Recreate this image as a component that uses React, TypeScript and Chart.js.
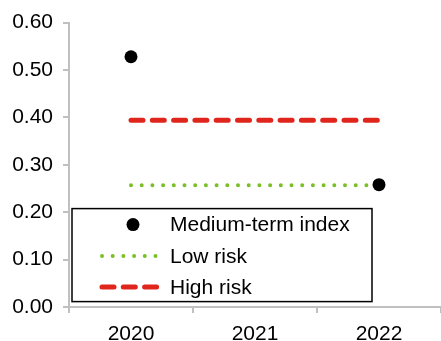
import React, { useEffect, useRef } from "react";
import { Chart, registerables } from "chart.js";

Chart.register(...registerables);

const categories = ["2020", "2021", "2022"];
const mediumTermIndex: (number | null)[] = [0.528, null, 0.258];
const lowRisk = [0.257, 0.257, 0.257];
const highRisk = [0.394, 0.394, 0.394];
const seriesLabels = ["Medium-term index", "Low risk", "High risk"];
const yMin = 0;
const yMax = 0.6;
const yStep = 0.1;

const FONT = "'Liberation Sans', Arial, sans-serif";
const AXIS_GRAY = "#c0c0c0";
const GREEN = "#78c025";
const RED = "#e0261c";

const boxLegend = {
  id: "boxLegend",
  afterDraw(chart: any) {
    const ctx = chart.ctx as CanvasRenderingContext2D;
    const area = chart.chartArea;
    const x0 = area.left + 3;
    const y0 = area.top + 186;
    const w = 300;
    const h = 93;
    ctx.save();
    ctx.fillStyle = "#ffffff";
    ctx.fillRect(x0, y0, w, h);
    ctx.strokeStyle = "#000000";
    ctx.lineWidth = 1.5;
    ctx.strokeRect(x0, y0, w, h);
    const rows = [y0 + 16, y0 + 47.5, y0 + 78.5];
    const sx0 = x0 + 28;
    const sx1 = x0 + 85;
    chart.data.datasets.forEach((ds: any, i: number) => {
      const y = rows[i];
      if (i === 0) {
        ctx.beginPath();
        ctx.fillStyle = ds.pointBackgroundColor;
        ctx.arc(x0 + 61, y, ds.pointRadius, 0, Math.PI * 2);
        ctx.fill();
      } else {
        ctx.beginPath();
        ctx.strokeStyle = ds.borderColor;
        ctx.lineWidth = ds.borderWidth;
        ctx.lineCap = "round";
        ctx.setLineDash(ds.borderDash);
        ctx.moveTo(sx0 + 2, y);
        ctx.lineTo(sx1, y);
        ctx.stroke();
        ctx.setLineDash([]);
      }
      ctx.fillStyle = "#000000";
      ctx.font = `21px ${FONT}`;
      ctx.textBaseline = "middle";
      ctx.textAlign = "left";
      ctx.fillText(ds.label, x0 + 98, y + 1);
    });
    ctx.restore();
  },
};

export default function App() {
  const ref = useRef<HTMLCanvasElement | null>(null);

  useEffect(() => {
    if (!ref.current) return;
    const chart = new Chart(ref.current, {
      type: "line",
      data: {
        labels: categories,
        datasets: [
          {
            label: seriesLabels[0],
            data: mediumTermIndex,
            showLine: false,
            pointRadius: 6.5,
            pointHoverRadius: 6.5,
            pointBackgroundColor: "#000000",
            pointBorderWidth: 0,
            borderColor: "#000000",
          },
          {
            label: seriesLabels[1],
            data: lowRisk,
            borderColor: GREEN,
            borderWidth: 4,
            borderDash: [0, 10.7],
            borderCapStyle: "round",
            pointRadius: 0,
            fill: false,
          },
          {
            label: seriesLabels[2],
            data: highRisk,
            borderColor: RED,
            borderWidth: 5,
            borderDash: [12, 9.3],
            borderCapStyle: "round",
            pointRadius: 0,
            fill: false,
          },
        ] as any,
      },
      options: {
        animation: false,
        responsive: false,
        maintainAspectRatio: false,
        layout: { autoPadding: false, padding: { top: 20, left: 0, right: 0, bottom: 0 } },
        plugins: {
          legend: { display: false },
          tooltip: { enabled: false },
        },
        scales: {
          x: {
            type: "category",
            offset: true,
            grid: {
              offset: true,
              drawOnChartArea: false,
              drawTicks: true,
              tickLength: 6,
              color: AXIS_GRAY,
              lineWidth: 2,
            },
            border: { display: true, color: AXIS_GRAY, width: 2 },
            ticks: {
              color: "#000000",
              font: { family: FONT, size: 21 },
              padding: 8.5,
              maxRotation: 0,
            },
            afterFit: (scale: any) => {
              scale.height = 34;
              scale.paddingLeft = 0;
              scale.paddingRight = 0;
            },
          },
          y: {
            min: yMin,
            max: yMax,
            grid: {
              drawOnChartArea: false,
              drawTicks: true,
              tickLength: 6,
              color: AXIS_GRAY,
              lineWidth: 2,
            },
            border: { display: true, color: AXIS_GRAY, width: 2 },
            ticks: {
              stepSize: yStep,
              color: "#000000",
              font: { family: FONT, size: 21 },
              padding: 10,
              callback: (v: any) => Number(v).toFixed(2),
            },
            afterFit: (scale: any) => {
              scale.width = 69;
            },
          },
        },
      },
      plugins: [boxLegend],
    });
    return () => chart.destroy();
  }, []);

  return (
    <div style={{ position: "fixed", left: 0, top: 0, width: 441, height: 341, background: "#fff" }}>
      <canvas ref={ref} width={441} height={341} style={{ display: "block" }} />
    </div>
  );
}
